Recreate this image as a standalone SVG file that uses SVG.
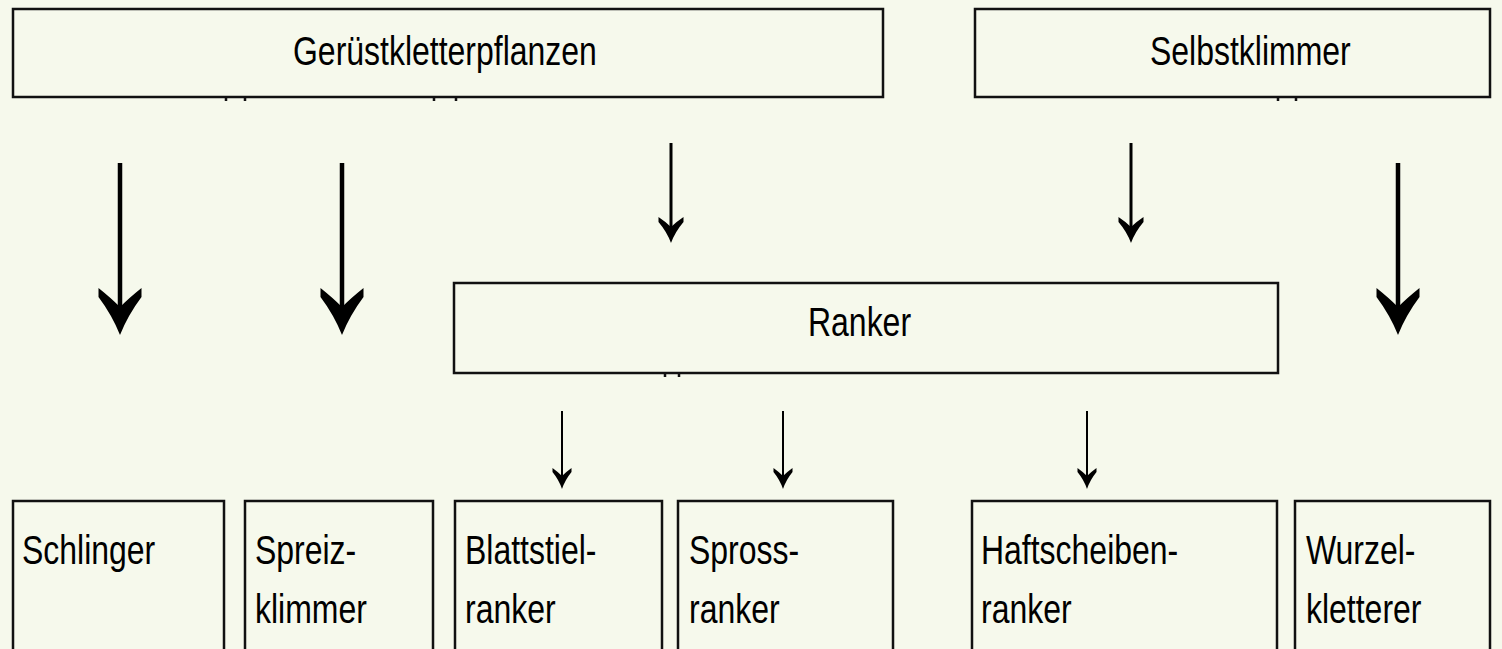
<svg xmlns="http://www.w3.org/2000/svg" xmlns:xlink="http://www.w3.org/1999/xlink" width="1502" height="649" viewBox="0 0 1502 649">
  <style>
    .box { fill: #F6F9EC; stroke: #111; stroke-width: 2.5; }
    .tick { stroke: #111; stroke-width: 2.5; fill: none; }
    .lbl { font-family: "Liberation Sans", Arial, sans-serif; font-size: 41px; fill: #000; }
    .shaft-l { stroke: #000; stroke-width: 4.5; }
    .shaft-m { stroke: #000; stroke-width: 3; }
    .shaft-s { stroke: #000; stroke-width: 2; }
    .head { fill: #000; }
  </style>
  <defs>
    <!-- arrowheads, tip at the origin, pointing down -->
    <path id="headL" class="head" d="M0,0 Q-8,-20 -21.5,-38 L-21.5,-47 Q-9,-37 0,-28 Q9,-37 21.5,-47 L21.5,-38 Q8,-20 0,0 Z"/>
    <path id="headM" class="head" d="M0,0 Q-4,-11 -12.5,-21 L-12.5,-26 Q-5,-21 0,-16 Q5,-21 12.5,-26 L12.5,-21 Q4,-11 0,0 Z"/>
    <path id="headS" class="head" d="M0,0 Q-3,-9 -9.5,-17 L-9.5,-21 Q-4,-17 0,-13 Q4,-17 9.5,-21 L9.5,-17 Q3,-9 0,0 Z"/>
  </defs>

  <rect width="1502" height="649" fill="#F6F9EC"/>

  <!-- top level categories -->
  <g id="geruestkletterpflanzen">
    <rect class="box" x="13" y="9" width="870" height="88"/>
    <path class="tick" d="M226,97v4M245,97v4M434,97v4M456,97v4"/>
    <text class="lbl" transform="translate(293,65) scale(0.78,1)">Gerüstkletterpflanzen</text>
  </g>
  <g id="selbstklimmer">
    <rect class="box" x="975" y="9" width="515" height="88"/>
    <path class="tick" d="M1278,97v4M1296,97v4"/>
    <text class="lbl" transform="translate(1150,65) scale(0.78,1)">Selbstklimmer</text>
  </g>

  <!-- intermediate category -->
  <g id="ranker">
    <rect class="box" x="454" y="283" width="824" height="90"/>
    <path class="tick" d="M665,373v4M679,373v4"/>
    <text class="lbl" transform="translate(808,336) scale(0.78,1)">Ranker</text>
  </g>

  <!-- leaf categories (open at the lower edge) -->
  <g id="schlinger">
    <rect class="box" x="13" y="501" width="211" height="170"/>
    <text class="lbl" transform="translate(22,564) scale(0.78,1)">Schlinger</text>
  </g>
  <g id="spreizklimmer">
    <rect class="box" x="245" y="501" width="188" height="170"/>
    <text class="lbl" transform="translate(255,564) scale(0.78,1)">Spreiz-</text>
    <text class="lbl" transform="translate(255,623) scale(0.78,1)">klimmer</text>
  </g>
  <g id="blattstielranker">
    <rect class="box" x="455" y="501" width="207" height="170"/>
    <text class="lbl" transform="translate(465,564) scale(0.78,1)">Blattstiel-</text>
    <text class="lbl" transform="translate(465,623) scale(0.78,1)">ranker</text>
  </g>
  <g id="sprossranker">
    <rect class="box" x="678" y="501" width="215" height="170"/>
    <text class="lbl" transform="translate(689,564) scale(0.78,1)">Spross-</text>
    <text class="lbl" transform="translate(689,623) scale(0.78,1)">ranker</text>
  </g>
  <g id="haftscheibenranker">
    <rect class="box" x="972" y="501" width="305" height="170"/>
    <text class="lbl" transform="translate(981,564) scale(0.78,1)">Haftscheiben-</text>
    <text class="lbl" transform="translate(981,623) scale(0.78,1)">ranker</text>
  </g>
  <g id="wurzelkletterer">
    <rect class="box" x="1295" y="501" width="195" height="170"/>
    <text class="lbl" transform="translate(1306,564) scale(0.78,1)">Wurzel-</text>
    <text class="lbl" transform="translate(1306,623) scale(0.78,1)">kletterer</text>
  </g>

  <!-- connectors -->
  <g id="connectors">
    <line class="shaft-l" x1="120" y1="163" x2="120" y2="312"/>
    <use xlink:href="#headL" x="120" y="335"/>
    <line class="shaft-l" x1="342" y1="163" x2="342" y2="312"/>
    <use xlink:href="#headL" x="342" y="335"/>
    <line class="shaft-l" x1="1398" y1="163" x2="1398" y2="312"/>
    <use xlink:href="#headL" x="1398" y="335"/>

    <line class="shaft-m" x1="671" y1="143" x2="671" y2="230"/>
    <use xlink:href="#headM" x="671" y="243"/>
    <line class="shaft-m" x1="1131" y1="143" x2="1131" y2="230"/>
    <use xlink:href="#headM" x="1131" y="243"/>

    <line class="shaft-s" x1="562" y1="411" x2="562" y2="479"/>
    <use xlink:href="#headS" x="562" y="489"/>
    <line class="shaft-s" x1="783" y1="411" x2="783" y2="479"/>
    <use xlink:href="#headS" x="783" y="489"/>
    <line class="shaft-s" x1="1087" y1="411" x2="1087" y2="479"/>
    <use xlink:href="#headS" x="1087" y="489"/>
  </g>
</svg>
